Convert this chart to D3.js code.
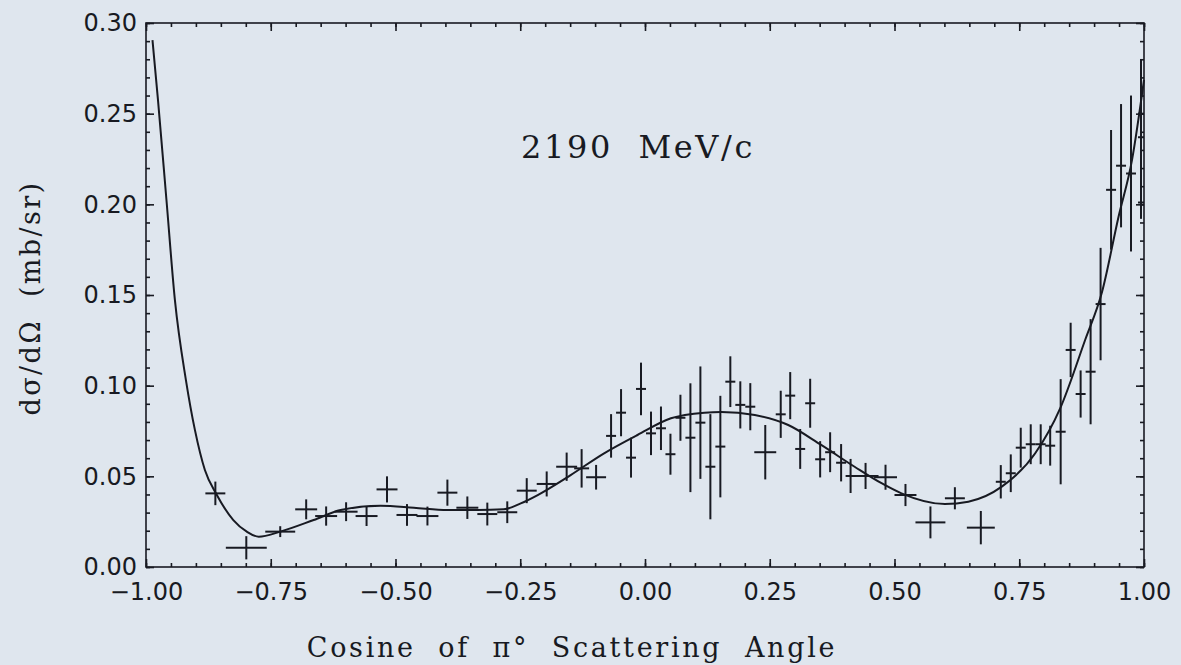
<!DOCTYPE html>
<html>
<head>
<meta charset="utf-8">
<script src="https://cdn.jsdelivr.net/npm/d3@7"></script>
<style>
  html, body { margin: 0; padding: 0; background: #dfe6ee; }
  svg { display: block; }
  .tick text { font-family: "DejaVu Sans", sans-serif; font-size: 24px; fill: #181a22; }
  .lbl { font-family: "DejaVu Serif", serif; fill: #181a22; white-space: pre; }
</style>
</head>
<body>
<script>
// data
var cosTheta = [-0.861, -0.799, -0.731, -0.679, -0.639, -0.599, -0.558, -0.517, -0.477, -0.436,
  -0.396, -0.356, -0.316, -0.276, -0.237, -0.197, -0.157, -0.127, -0.098, -0.068,
  -0.048, -0.028, -0.008, 0.012, 0.032, 0.051, 0.071, 0.091, 0.111, 0.131,
  0.151, 0.171, 0.191, 0.211, 0.241, 0.272, 0.291, 0.311, 0.331, 0.351,
  0.371, 0.393, 0.412, 0.442, 0.482, 0.522, 0.572, 0.621, 0.673, 0.713,
  0.733, 0.753, 0.773, 0.793, 0.812, 0.833, 0.853, 0.873, 0.893, 0.913,
  0.934, 0.954, 0.974, 0.994, 0.994, 0.994];
var cosErr = [0.020, 0.041, 0.030, 0.022, 0.022, 0.023, 0.022, 0.021, 0.021, 0.022,
  0.020, 0.022, 0.020, 0.020, 0.020, 0.020, 0.021, 0.015, 0.020, 0.010,
  0.010, 0.010, 0.010, 0.010, 0.010, 0.010, 0.010, 0.010, 0.010, 0.010,
  0.010, 0.010, 0.010, 0.010, 0.022, 0.010, 0.010, 0.010, 0.010, 0.010,
  0.010, 0.010, 0.010, 0.026, 0.023, 0.022, 0.030, 0.020, 0.028, 0.010,
  0.010, 0.010, 0.010, 0.010, 0.010, 0.010, 0.010, 0.010, 0.010, 0.010,
  0.010, 0.010, 0.010, 0.006, 0.006, 0.006];
var dsig = [0.0406, 0.0106, 0.0195, 0.0318, 0.0281, 0.0305, 0.0281, 0.0428, 0.0287, 0.0281,
  0.0410, 0.0327, 0.0292, 0.0302, 0.0421, 0.0458, 0.0553, 0.0544, 0.0495, 0.0723,
  0.0851, 0.0603, 0.0982, 0.0737, 0.0765, 0.0622, 0.0823, 0.0713, 0.0796, 0.0553,
  0.0664, 0.1022, 0.0894, 0.0884, 0.0633, 0.0842, 0.0945, 0.0651, 0.0903, 0.0594,
  0.0633, 0.0575, 0.0502, 0.0502, 0.0495, 0.0397, 0.0246, 0.0379, 0.0217, 0.0470,
  0.0517, 0.0658, 0.0677, 0.0677, 0.0669, 0.0746, 0.1197, 0.0954, 0.1077, 0.1450,
  0.2080, 0.2213, 0.2170, 0.2500, 0.2370, 0.2010];
var dsigErr = [0.0065, 0.0064, 0.0030, 0.0055, 0.0053, 0.0052, 0.0055, 0.0072, 0.0060, 0.0052,
  0.0072, 0.0062, 0.0063, 0.0060, 0.0069, 0.0069, 0.0078, 0.0106, 0.0068, 0.0120,
  0.0130, 0.0110, 0.0145, 0.0120, 0.0120, 0.0113, 0.0127, 0.0300, 0.0310, 0.0290,
  0.0280, 0.0140, 0.0130, 0.0130, 0.0150, 0.0130, 0.0130, 0.0110, 0.0135, 0.0100,
  0.0110, 0.0103, 0.0094, 0.0072, 0.0069, 0.0061, 0.0088, 0.0061, 0.0092, 0.0092,
  0.0104, 0.0110, 0.0110, 0.0110, 0.0110, 0.0290, 0.0150, 0.0130, 0.0290, 0.0310,
  0.0330, 0.0340, 0.0430, 0.0300, 0.0350, 0.0090];

// fitted curve
var fitCos = [-0.987, -0.976, -0.959, -0.942, -0.920, -0.902, -0.882, -0.858, -0.825, -0.798,
  -0.774, -0.731, -0.664, -0.610, -0.530, -0.463, -0.396, -0.336, -0.283, -0.249,
  -0.215, -0.149, -0.082, -0.015, 0.052, 0.119, 0.153, 0.220, 0.287, 0.353,
  0.420, 0.474, 0.514, 0.601, 0.648, 0.715, 0.782, 0.832, 0.882, 0.916,
  0.949, 0.976, 1.000];
var fitSig = [0.2906, 0.2576, 0.2024, 0.1470, 0.1031, 0.0756, 0.0535, 0.0397, 0.0259, 0.0195,
  0.0167, 0.0195, 0.0259, 0.0314, 0.0338, 0.0327, 0.0314, 0.0314, 0.0318, 0.0351,
  0.0397, 0.0507, 0.0627, 0.0728, 0.0820, 0.0851, 0.0855, 0.0838, 0.0783, 0.0673,
  0.0553, 0.0462, 0.0406, 0.0347, 0.0360, 0.0443, 0.0627, 0.0875, 0.1252, 0.1518,
  0.1932, 0.2245, 0.2686];

var xMajor = [-1.00, -0.75, -0.50, -0.25, 0.00, 0.25, 0.50, 0.75, 1.00];
var yMajor = [0.00, 0.05, 0.10, 0.15, 0.20, 0.25, 0.30];
var xLabel = 'Cosine  of  \u03c0\u00b0  Scattering  Angle';
var yLabel = 'd\u03c3/d\u03a9  (mb/sr)';
var title = '2190  MeV/c';

(function (d3) {
  'use strict';

  var width = 1181, height = 665;
  var ink = '#181a22';
  var margin = { top: 23, right: 37, bottom: 98, left: 146 };
  var innerWidth = width - margin.left - margin.right;
  var innerHeight = height - margin.top - margin.bottom;

  var svg = d3.select('body').append('svg')
    .attr('width', width)
    .attr('height', height);

  var g = svg.append('g')
    .attr('transform', 'translate(' + margin.left + ',' + margin.top + ')');

  var xScale = d3.scaleLinear().domain([-1, 1]).range([0, innerWidth]);
  var yScale = d3.scaleLinear().domain([0, 0.30]).range([innerHeight, 0]);

  var xMinor = d3.range(-1, 1.0001, 0.05);
  var yMinor = d3.range(0, 0.3001, 0.01);
  var fmt = d3.format('.2f');

  // ticks point inward on all four sides
  function styleAxis(sel) {
    sel.select('.domain').remove();
    sel.selectAll('line').attr('stroke', ink).attr('stroke-width', 1.6);
  }

  g.append('g').attr('transform', 'translate(0,' + innerHeight + ')')
    .call(d3.axisBottom(xScale).tickValues(xMinor).tickSize(-4).tickFormat(''))
    .call(styleAxis);
  g.append('g').attr('transform', 'translate(0,' + innerHeight + ')')
    .call(d3.axisBottom(xScale).tickValues(xMajor).tickSize(-8).tickPadding(16).tickFormat(fmt))
    .call(styleAxis);
  g.append('g')
    .call(d3.axisTop(xScale).tickValues(xMinor).tickSize(-4).tickFormat(''))
    .call(styleAxis);
  g.append('g')
    .call(d3.axisTop(xScale).tickValues(xMajor).tickSize(-8).tickFormat(''))
    .call(styleAxis);

  g.append('g')
    .call(d3.axisLeft(yScale).tickValues(yMinor).tickSize(-4).tickFormat(''))
    .call(styleAxis);
  g.append('g')
    .call(d3.axisLeft(yScale).tickValues(yMajor).tickSize(-8).tickPadding(9).tickFormat(fmt))
    .call(styleAxis);
  g.append('g').attr('transform', 'translate(' + innerWidth + ',0)')
    .call(d3.axisRight(yScale).tickValues(yMinor).tickSize(-4).tickFormat(''))
    .call(styleAxis);
  g.append('g').attr('transform', 'translate(' + innerWidth + ',0)')
    .call(d3.axisRight(yScale).tickValues(yMajor).tickSize(-8).tickFormat(''))
    .call(styleAxis);

  g.selectAll('.tick text').attr('fill', ink);

  // frame
  g.append('rect')
    .attr('width', innerWidth)
    .attr('height', innerHeight)
    .attr('fill', 'none')
    .attr('stroke', ink)
    .attr('stroke-width', 1.6);

  // fit curve
  var fit = fitCos.map(function (c, i) { return [c, fitSig[i]]; });
  var line = d3.line()
    .x(function (d) { return xScale(d[0]); })
    .y(function (d) { return yScale(d[1]); })
    .curve(d3.curveMonotoneX);

  g.append('path')
    .datum(fit)
    .attr('fill', 'none')
    .attr('stroke', ink)
    .attr('stroke-width', 2)
    .attr('d', line);

  // data points as error crosses
  var points = cosTheta.map(function (c, i) {
    return { c: c, ce: cosErr[i], v: dsig[i], ve: dsigErr[i] };
  });

  var cross = g.selectAll('.pt').data(points)
    .enter().append('g')
    .attr('class', 'pt')
    .attr('stroke', ink)
    .attr('stroke-width', 2);

  cross.append('line')
    .attr('x1', function (d) { return xScale(d.c - d.ce); })
    .attr('x2', function (d) { return xScale(d.c + d.ce); })
    .attr('y1', function (d) { return yScale(d.v); })
    .attr('y2', function (d) { return yScale(d.v); });

  cross.append('line')
    .attr('x1', function (d) { return xScale(d.c); })
    .attr('x2', function (d) { return xScale(d.c); })
    .attr('y1', function (d) { return yScale(d.v - d.ve); })
    .attr('y2', function (d) { return yScale(d.v + d.ve); });

  // texts
  svg.append('text')
    .attr('class', 'lbl')
    .attr('x', 638)
    .attr('y', 158)
    .attr('text-anchor', 'middle')
    .style('font-size', '32px')
    .style('letter-spacing', '2.6px')
    .text(title);

  svg.append('text')
    .attr('class', 'lbl')
    .attr('x', 572)
    .attr('y', 657)
    .attr('text-anchor', 'middle')
    .style('font-size', '27px')
    .style('letter-spacing', '2.7px')
    .text(xLabel);

  svg.append('text')
    .attr('class', 'lbl')
    .attr('transform', 'translate(40,298) rotate(-90)')
    .attr('text-anchor', 'middle')
    .style('font-size', '27px')
    .style('letter-spacing', '2.4px')
    .text(yLabel);

})(d3);
</script>
</body>
</html>
